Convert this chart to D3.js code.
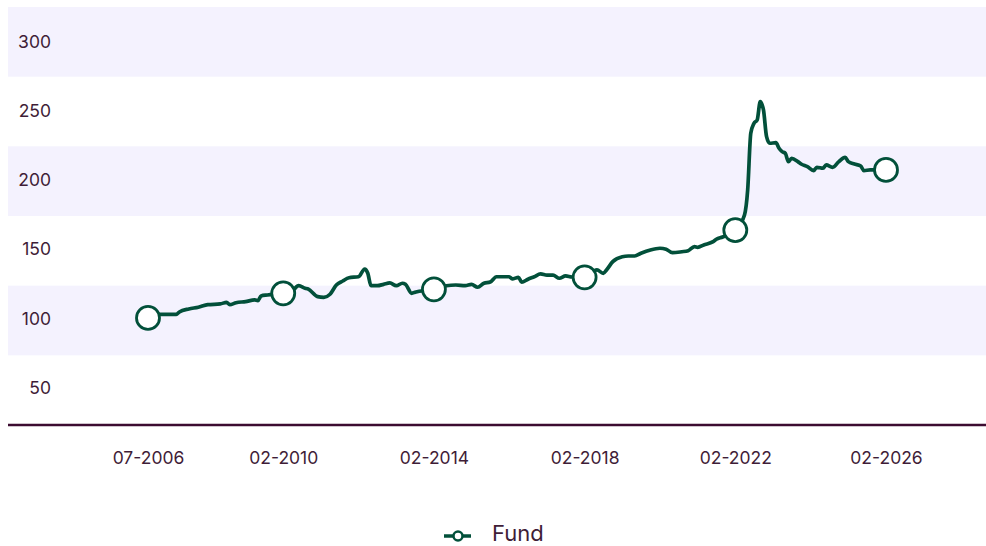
<!DOCTYPE html>
<html>
<head>
<meta charset="utf-8">
<script src="https://cdn.jsdelivr.net/npm/d3@7"></script>
<style>
  body { margin: 0; background: #fff; }
  svg text { font-family: Inter, "Noto Sans", sans-serif; fill: #3f1d37; }
</style>
</head>
<body>
<div id="chart"></div>
<script>
var width = 986, height = 546;
var plot = { left: 8, right: 986, top: 7, bottom: 425 };

// fund value, indexed to 100 at launch
var dates = ["2006-07","2006-10","2007-04","2007-05","2007-08","2007-11","2008-02","2008-06","2008-08","2008-09",
  "2008-11","2009-02","2009-05","2009-06","2009-07","2009-09","2010-02","2010-05","2010-07","2010-09",
  "2010-10","2011-01","2011-03","2011-05","2011-07","2011-09","2011-11","2012-02","2012-04","2012-05",
  "2012-06","2012-08","2012-10","2012-12","2013-02","2013-04","2013-05","2013-07","2013-08","2014-02",
  "2014-06","2014-09","2014-12","2015-02","2015-04","2015-06","2015-08","2015-10","2016-02","2016-03",
  "2016-05","2016-06","2016-08","2016-10","2016-12","2017-02","2017-04","2017-06","2017-08","2017-10",
  "2018-02","2018-06","2018-08","2018-09","2018-11","2019-02","2019-04","2019-06","2019-08","2019-11",
  "2020-02","2020-04","2020-06","2020-09","2020-11","2021-01","2021-02","2021-04","2021-07","2021-08",
  "2021-10","2022-02","2022-05","2022-06","2022-07","2022-08","2022-09","2022-10","2022-11","2022-12",
  "2023-01","2023-03","2023-04","2023-05","2023-06","2023-07","2023-08","2023-10","2023-11","2024-01",
  "2024-03","2024-04","2024-06","2024-07","2024-09","2024-11","2025-01","2025-02","2025-04","2025-06",
  "2025-07","2025-09","2026-02"];
var values = [100.0,102.5,102.6,104.3,106.5,107.7,109.6,110.1,111.3,109.6,
  111.0,111.8,113.0,112.5,115.9,116.6,117.8,119.7,123.3,121.5,
  120.9,115.4,114.9,117.1,123.8,126.7,129.1,129.8,135.4,132.3,
  123.3,123.3,124.3,125.3,123.3,125.1,124.3,117.8,118.6,120.7,
  123.3,123.8,123.3,124.2,122.2,125.1,126.0,129.8,129.8,128.2,
  129.4,125.8,128.0,129.8,131.8,130.9,130.9,128.7,130.4,129.6,
  129.4,134.7,132.3,134.7,140.7,144.3,144.8,144.8,146.8,149.2,
  150.4,149.7,147.2,147.9,148.6,151.6,151.1,152.8,155.2,156.9,
  158.6,163.6,174.5,192.6,233.6,240.8,243.2,256.5,250.5,231.2,
  226.4,226.8,222.8,220.3,219.1,213.1,215.5,213.1,211.4,209.4,
  206.6,209.0,208.3,210.7,209.0,213.1,216.2,213.1,211.4,209.9,
  206.6,207.1,207.1];

var xTicks = ["2006-07","2010-02","2014-02","2018-02","2022-02","2026-02"];
var yTicks = [50, 100, 150, 200, 250, 300];
var seriesName = "Fund";

var parse = d3.timeParse("%Y-%m");
var fmt = d3.timeFormat("%m-%Y");
var data = dates.map(function (d, i) { return { date: parse(d), value: values[i] }; });
var tickDates = xTicks.map(parse);

var lineColor = "#02503a";
var axisColor = "#3c0c31";

var x = d3.scaleTime()
  .domain([tickDates[0], tickDates[tickDates.length - 1]])
  .range([148, 886]);

var y = d3.scaleLinear()
  .domain([22.5, 325])
  .range([plot.bottom, plot.top]);

var svg = d3.select("#chart").append("svg")
  .attr("width", width)
  .attr("height", height);

// alternating row bands
var rowH = (plot.bottom - plot.top) / yTicks.length;
svg.append("g").selectAll("rect")
  .data(d3.range(0, yTicks.length, 2))
  .join("rect")
    .attr("x", plot.left)
    .attr("y", function (i) { return plot.top + i * rowH; })
    .attr("width", plot.right - plot.left)
    .attr("height", rowH)
    .attr("fill", "#f4f2fe");

// y axis labels
var yAxis = svg.append("g")
  .attr("transform", "translate(51,0)")
  .call(d3.axisLeft(y).tickValues(yTicks).tickSize(0).tickPadding(0));
yAxis.select(".domain").remove();
yAxis.selectAll("text")
  .attr("font-size", 17.5)
  .attr("fill", "#3f1d37")
  .attr("dy", "0.35em");

// x axis
var xAxis = svg.append("g")
  .attr("transform", "translate(0," + plot.bottom + ")")
  .call(d3.axisBottom(x).tickValues(tickDates).tickFormat(fmt).tickSize(0).tickPadding(27));
xAxis.select(".domain").remove();
xAxis.selectAll("text")
  .attr("font-size", 17.5)
  .attr("fill", "#3f1d37");

svg.append("line")
  .attr("x1", plot.left).attr("x2", plot.right)
  .attr("y1", plot.bottom).attr("y2", plot.bottom)
  .attr("stroke", axisColor)
  .attr("stroke-width", 2.5);

// the fund line
var line = d3.line()
  .x(function (d) { return x(d.date); })
  .y(function (d) { return y(d.value); })
  .curve(d3.curveMonotoneX);

svg.append("path")
  .datum(data)
  .attr("d", line)
  .attr("fill", "none")
  .attr("stroke", lineColor)
  .attr("stroke-width", 3.7)
  .attr("stroke-linejoin", "round");

// markers on the tick dates
var markerData = data.filter(function (d) {
  return xTicks.indexOf(d3.timeFormat("%Y-%m")(d.date)) >= 0;
});
svg.append("g").selectAll("circle")
  .data(markerData)
  .join("circle")
    .attr("cx", function (d) { return x(d.date); })
    .attr("cy", function (d) { return y(d.value); })
    .attr("r", 11.5)
    .attr("fill", "#fff")
    .attr("stroke", lineColor)
    .attr("stroke-width", 2.8);

// legend
var legend = svg.append("g").attr("transform", "translate(458,536)");
legend.append("line")
  .attr("x1", -14).attr("x2", 13)
  .attr("stroke", lineColor)
  .attr("stroke-width", 3.5);
legend.append("circle")
  .attr("r", 4.5)
  .attr("fill", "#fff")
  .attr("stroke", lineColor)
  .attr("stroke-width", 2.5);
legend.append("text")
  .attr("x", 34)
  .attr("y", -3)
  .attr("dy", "0.35em")
  .attr("font-size", 22)
  .attr("fill", "#3f1d37")
  .text(seriesName);
</script>
</body>
</html>
